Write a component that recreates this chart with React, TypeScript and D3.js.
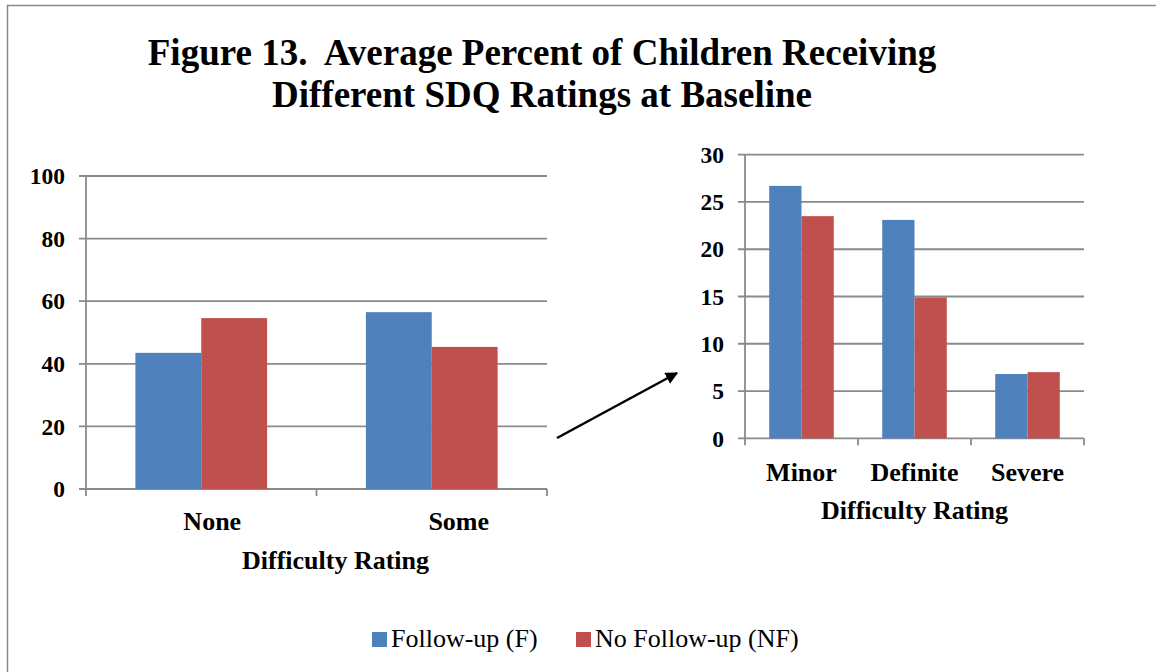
import React from "react";
import * as d3 from "d3";

const seriesNames = ["Follow-up (F)", "No Follow-up (NF)"];
const seriesColors = ["#4F81BD", "#C0504D"];

const leftCategories = ["None", "Some"];
const leftFollowUp = [43.5, 56.5];
const leftNoFollowUp = [54.6, 45.4];
const leftTicks = [0, 20, 40, 60, 80, 100];

const rightCategories = ["Minor", "Definite", "Severe"];
const rightFollowUp = [26.7, 23.1, 6.8];
const rightNoFollowUp = [23.5, 14.9, 7.0];
const rightTicks = [0, 5, 10, 15, 20, 25, 30];

const titleLines = [
  "Figure 13.  Average Percent of Children Receiving",
  "Different SDQ Ratings at Baseline",
];
const axisTitle = "Difficulty Rating";

const FONT = "'Liberation Serif', 'Times New Roman', serif";
const GRID = "#8a8a8a";

type PanelProps = {
  categories: string[];
  f: number[];
  nf: number[];
  ticks: number[];
  yMax: number;
  x0: number;
  x1: number;
  y0: number;
  y1: number;
  labelRange: [number, number];
  catBaseline: number;
  titleBaseline: number;
};

function Panel(p: PanelProps) {
  const x = d3.scaleBand<string>().domain(p.categories).range([p.x0, p.x1]).padding(0);
  const xs = d3
    .scaleBand<string>()
    .domain(seriesNames)
    .range([0, x.bandwidth()])
    .paddingInner(0)
    .paddingOuter(0.75);
  const y = d3.scaleLinear().domain([0, p.yMax]).range([p.y0, p.y1]);
  const lx = d3.scaleBand<string>().domain(p.categories).range(p.labelRange);
  const vals = [p.f, p.nf];
  const boundaries = [p.x0, ...p.categories.map((c) => (x(c) as number) + x.bandwidth())];
  return (
    <g>
      {p.ticks.map((t) => (
        <g key={t}>
          <line x1={p.x0 - 7} x2={p.x1} y1={y(t)} y2={y(t)} stroke={GRID} strokeWidth={1.8} />
          <text
            x={p.x0 - 21}
            y={y(t)}
            dy="0.35em"
            textAnchor="end"
            fontFamily={FONT}
            fontWeight="bold"
            fontSize={23.5}
          >
            {t}
          </text>
        </g>
      ))}
      <line x1={p.x0} x2={p.x0} y1={p.y1} y2={p.y0} stroke={GRID} strokeWidth={1.8} />
      {boundaries.map((b, i) => (
        <line key={i} x1={b} x2={b} y1={p.y0} y2={p.y0 + 7} stroke={GRID} strokeWidth={1.8} />
      ))}
      {p.categories.map((c, ci) =>
        seriesNames.map((s, si) => {
          const v = vals[si][ci];
          return (
            <rect
              key={c + s}
              x={(x(c) as number) + (xs(s) as number)}
              width={xs.bandwidth()}
              y={y(v)}
              height={y(0) - y(v)}
              fill={seriesColors[si]}
            />
          );
        })
      )}
      {p.categories.map((c) => (
        <text
          key={c}
          x={(lx(c) as number) + lx.bandwidth() / 2}
          y={p.catBaseline}
          textAnchor="middle"
          fontFamily={FONT}
          fontWeight="bold"
          fontSize={26}
        >
          {c}
        </text>
      ))}
      <text
        x={(p.labelRange[0] + p.labelRange[1]) / 2}
        y={p.titleBaseline}
        textAnchor="middle"
        fontFamily={FONT}
        fontWeight="bold"
        fontSize={26}
      >
        {axisTitle}
      </text>
    </g>
  );
}

export default function App() {
  const legendX = [372, 576];
  return (
    <svg
      width={1156}
      height={672}
      style={{ position: "absolute", left: 0, top: 0, background: "#fff" }}
    >
      <rect x={0} y={0} width={1156} height={672} fill="#fff" />
      <path d="M7.5,680 L7.5,5.5 L1160,5.5" fill="none" stroke="#8a8a8a" strokeWidth={1.5} />
      {titleLines.map((t, i) => (
        <text
          key={i}
          x={542}
          y={i === 0 ? 65 : 107}
          textAnchor="middle"
          fontFamily={FONT}
          fontWeight="bold"
          fontSize={37}
          style={{ whiteSpace: "pre" }}
        >
          {t}
        </text>
      ))}
      <Panel
        categories={leftCategories}
        f={leftFollowUp}
        nf={leftNoFollowUp}
        ticks={leftTicks}
        yMax={100}
        x0={86}
        x1={547}
        y0={489}
        y1={176}
        labelRange={[89, 582]}
        catBaseline={530}
        titleBaseline={569}
      />
      <Panel
        categories={rightCategories}
        f={rightFollowUp}
        nf={rightNoFollowUp}
        ticks={rightTicks}
        yMax={30}
        x0={745}
        x1={1084}
        y0={438.3}
        y1={154.7}
        labelRange={[745, 1084]}
        catBaseline={481}
        titleBaseline={519}
      />
      <defs>
        <marker
          id="arrowhead"
          viewBox="0 0 10 10"
          refX={9}
          refY={5}
          markerWidth={5}
          markerHeight={5}
          orient="auto"
          markerUnits="strokeWidth"
        >
          <path d="M0,0 L10,5 L0,10 z" fill="#000" />
        </marker>
      </defs>
      <line
        x1={557}
        y1={438}
        x2={677}
        y2={373}
        stroke="#000"
        strokeWidth={2.5}
        markerEnd="url(#arrowhead)"
      />
      {seriesNames.map((s, i) => (
        <g key={s}>
          <rect x={legendX[i]} y={632} width={15} height={15} fill={seriesColors[i]} />
          <text x={legendX[i] + 19} y={647} fontFamily={FONT} fontSize={26}>
            {s}
          </text>
        </g>
      ))}
    </svg>
  );
}
